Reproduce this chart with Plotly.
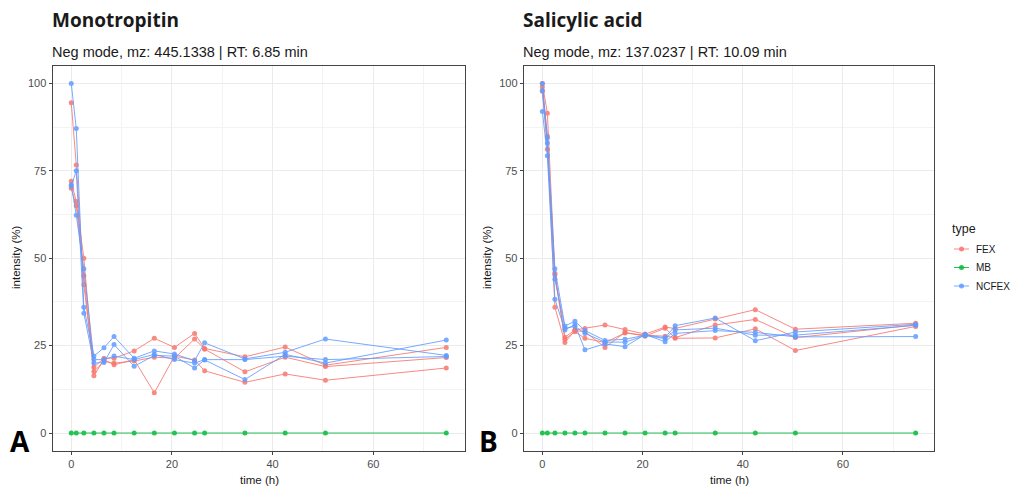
import plotly.graph_objects as go

# ---- data ----
time_h = [0, 1, 2.5, 4.5, 6.5, 8.5, 12.5, 16.5, 20.5, 24.5, 26.5, 34.5, 42.5, 50.5, 74.5]

# Monotropitin
mono_fex_1 = [94.5, 76.7, 42.4, 18.8, 21.4, 21.4, 23.5, 27.1, 24.5, 28.5, 24.2, 21.8, 24.6, 19.4, 24.5]
mono_fex_2 = [72.0, 66.2, 50.0, 17.6, 20.5, 20.0, 20.6, 21.7, 21.4, 26.9, 24.0, 17.5, 21.7, 19.0, 21.6]
mono_fex_3 = [70.0, 65.0, 45.0, 16.4, 21.0, 19.5, 21.0, 11.5, 22.0, 20.9, 17.8, 14.5, 16.9, 15.1, 18.6]
mono_ncfex_1 = [100.0, 87.1, 36.0, 22.0, 24.4, 27.6, 21.4, 23.5, 22.6, 20.7, 25.8, 21.2, 23.1, 26.9, 22.2]
mono_ncfex_2 = [70.7, 75.0, 34.3, 20.0, 20.2, 25.3, 19.1, 22.2, 22.0, 18.6, 20.9, 15.3, 22.5, 20.0, 26.6]
mono_ncfex_3 = [71.0, 62.3, 47.0, 21.0, 21.0, 22.0, 21.0, 22.5, 21.0, 20.0, 21.0, 21.0, 22.0, 21.0, 21.9]
mono_mb = [0] * 15

# Salicylic acid
sal_fex_1 = [100.0, 91.5, 45.7, 27.4, 29.5, 29.9, 30.9, 29.6, 28.3, 30.3, 29.9, 32.6, 35.3, 29.7, 31.4]
sal_fex_2 = [97.8, 81.2, 45.2, 26.8, 29.0, 27.1, 25.9, 28.6, 28.0, 27.7, 27.3, 30.9, 32.5, 27.3, 30.9]
sal_fex_3 = [99.0, 85.0, 36.0, 25.9, 29.3, 29.0, 24.5, 28.8, 27.7, 30.0, 27.1, 27.2, 29.8, 23.6, 30.5]
sal_ncfex_1 = [100.0, 84.5, 47.0, 30.6, 32.0, 29.3, 26.5, 26.8, 28.0, 27.3, 30.7, 32.9, 26.4, 28.9, 31.1]
sal_ncfex_2 = [92.0, 79.3, 38.3, 29.5, 31.0, 23.8, 25.5, 24.7, 28.2, 26.1, 28.5, 29.3, 28.8, 27.5, 27.6]
sal_ncfex_3 = [98.0, 83.0, 44.0, 30.0, 30.5, 28.5, 26.0, 26.0, 27.9, 27.0, 29.5, 30.0, 28.0, 28.0, 30.8]
sal_mb = [0] * 15

x_ticks = [0, 20, 40, 60]
y_ticks = [0, 25, 50, 75, 100]
legend_types = ["FEX", "MB", "NCFEX"]

COL = {"FEX": "#F8766D", "MB": "#00BA38", "NCFEX": "#619CFF"}

fig = go.Figure()

def add(y, typ, xa, ya):
    fig.add_trace(go.Scatter(
        x=time_h, y=y, mode="lines+markers", name=typ, legendgroup=typ,
        showlegend=False, xaxis=xa, yaxis=ya,
        line=dict(color=COL[typ], width=1),
        marker=dict(color=COL[typ], size=5),
        opacity=0.85,
    ))

panels = [
    ("x", "y", [mono_fex_1, mono_fex_2, mono_fex_3], mono_mb, [mono_ncfex_1, mono_ncfex_2, mono_ncfex_3]),
    ("x2", "y2", [sal_fex_1, sal_fex_2, sal_fex_3], sal_mb, [sal_ncfex_1, sal_ncfex_2, sal_ncfex_3]),
]
for xa, ya, fex, mb, ncfex in panels:
    for s in fex:
        add(s, "FEX", xa, ya)
    add(mb, "MB", xa, ya)
    for s in ncfex:
        add(s, "NCFEX", xa, ya)

W, H = 1013, 490
def px(x): return x / W
def py(y): return 1 - y / H

axis_common = dict(
    showline=True, mirror=True, linecolor="#444444", linewidth=1,
    showgrid=True, gridcolor="#EBEBEB", gridwidth=1,
    zeroline=False, ticks="outside", ticklen=3, tickcolor="#444444",
    tickfont=dict(family="Liberation Sans, Arial", size=11, color="#4D4D4D"),
    automargin=False,
)
xr = [-3.725, 78.225]
yr = [-5, 105]
minor_x = dict(dtick=10, tick0=0, showgrid=True, gridcolor="#F3F3F3", gridwidth=0.6)
minor_y = dict(dtick=12.5, tick0=0, showgrid=True, gridcolor="#F3F3F3", gridwidth=0.6)

fig.update_layout(
    width=W, height=H,
    margin=dict(l=0, r=0, t=0, b=0),
    paper_bgcolor="white", plot_bgcolor="white",
    showlegend=False,
    font=dict(family="Liberation Sans, Arial", color="#1a1a1a"),
    xaxis=dict(domain=[px(52.5), px(465)], range=xr, tickvals=x_ticks, anchor="y", minor=minor_x, **axis_common),
    yaxis=dict(domain=[py(450.5), py(66)], range=yr, tickvals=y_ticks, anchor="x", minor=minor_y, **axis_common),
    xaxis2=dict(domain=[px(523.7), px(934.3)], range=xr, tickvals=x_ticks, anchor="y2", minor=minor_x, **axis_common),
    yaxis2=dict(domain=[py(450.5), py(66)], range=yr, tickvals=y_ticks, anchor="x2", minor=minor_y, **axis_common),
)

ann = []
def text(x, y, t, size, bold=False, xanchor="left", family="Liberation Sans, Arial", angle=0, color="#1a1a1a"):
    ann.append(dict(x=px(x), y=py(y), xref="paper", yref="paper", text=(f"<b>{t}</b>" if bold else t),
                    showarrow=False, xanchor=xanchor, yanchor="middle", textangle=angle,
                    font=dict(size=size, family=family, color=color)))

text(50, 20, "Monotropitin", 19, bold=True, family="Open Sans, Liberation Sans")
text(50, 52, "Neg mode, mz: 445.1338 | RT: 6.85 min", 14.5)
text(521, 20, "Salicylic acid", 19, bold=True, family="Open Sans, Liberation Sans")
text(521, 52, "Neg mode, mz: 137.0237 | RT: 10.09 min", 14.5)
text(259, 480, "time (h)", 11.5, xanchor="center")
text(729, 480, "time (h)", 11.5, xanchor="center")
text(16, 258, "intensity (%)", 11.5, xanchor="center", angle=-90)
text(487, 258, "intensity (%)", 11.5, xanchor="center", angle=-90)
text(8, 441, "A", 28, bold=True, family="Open Sans, Liberation Sans", color="black")
text(477, 441, "B", 28, bold=True, family="Open Sans, Liberation Sans", color="black")

# legend (drawn as key glyphs + labels)
text(950, 229, "type", 12.5)
shapes = []
for i, typ in enumerate(legend_types):
    yy = 249 + i * 18.5
    shapes.append(dict(type="line", xref="paper", yref="paper", x0=px(954), x1=px(969), y0=py(yy), y1=py(yy),
                       line=dict(color=COL[typ], width=1), opacity=0.85))
    shapes.append(dict(type="circle", xref="paper", yref="paper", x0=px(959), x1=px(964), y0=py(yy + 2.5), y1=py(yy - 2.5),
                       fillcolor=COL[typ], line=dict(width=0), opacity=0.85))
    text(974, yy, typ, 10)

fig.update_layout(annotations=ann, shapes=shapes)

fig.write_html("out.html")
